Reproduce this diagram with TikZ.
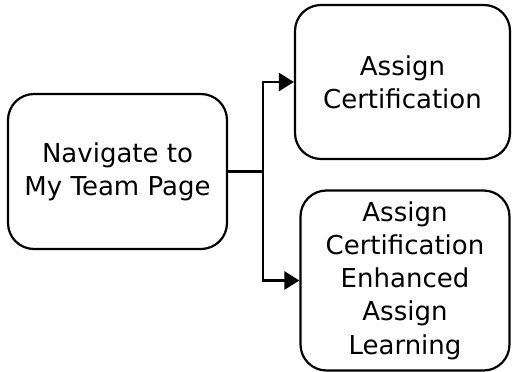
\documentclass[tikz,border=0pt]{standalone}
\usepackage{fontspec}
\setmainfont{DejaVu Sans}
\usetikzlibrary{positioning,arrows.meta}
\tikzset{
  stepbox/.style={draw, rounded corners=26pt, line width=2.2pt, align=center,
    inner sep=0pt, font=\fontsize{26}{33.3}\selectfont},
  link/.style={line width=2.4pt},
  linkarrow/.style={link, -{Triangle[length=15pt,width=18pt]}}
}
\begin{document}
\begin{tikzpicture}[x=1pt,y=-1pt]
  \useasboundingbox (0,0) rectangle (512,372);

  \node[stepbox, minimum width=219pt, minimum height=155pt] (nav) at (117.5,171.5) {Navigate to\\My Team Page};
  \node[stepbox, minimum width=215pt, minimum height=154pt] (cert) at (402.5,82) {Assign\\Certification};
  \node[stepbox, minimum width=209pt, minimum height=180pt] (enh) at (405,280.5) {Assign\\Certification\\Enhanced\\Assign\\Learning};

  \coordinate[right=35pt of nav] (split);

  \draw[link] (nav.east) -- (split); %% nav->split
  \draw[linkarrow] (split) |- (cert.west); %% split->cert
  \draw[linkarrow] (split) |- (enh.west); %% split->enh
\end{tikzpicture}
\end{document}
